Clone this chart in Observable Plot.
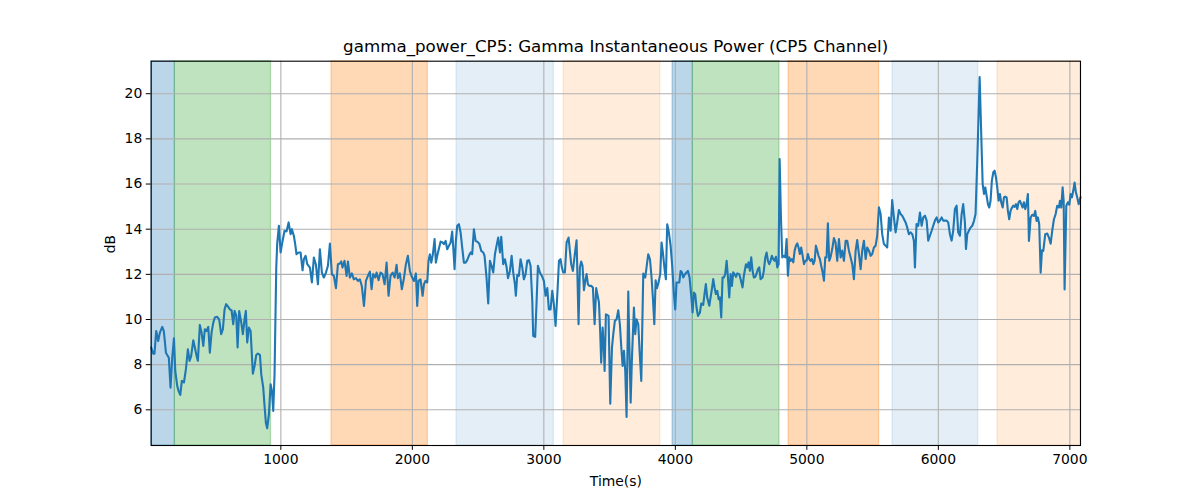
<!DOCTYPE html>
<html>
<head>
<meta charset="utf-8">
<script src="https://cdn.jsdelivr.net/npm/d3@7"></script>
<script src="https://cdn.jsdelivr.net/npm/@observablehq/plot@0.6"></script>
<style>
  html, body { margin: 0; padding: 0; background: white; }
  #title {
    height: 56px; box-sizing: border-box; padding-top: 36px;
    width: 930px; margin-left: 150.7px; text-align: center;
    font-family: "DejaVu Sans", sans-serif; font-size: 16.7px; line-height: 20px; color: black;
    white-space: nowrap;
  }
</style>
</head>
<body>
<div id="title">gamma_power_CP5: Gamma Instantaneous Power (CP5 Channel)</div>
<div id="chart"></div>
<script>
// ---- data ----
const times = [
  14,29,39,52,67,80,98,110,126,136,148,161,174,187,197,212,222,235,247,263,278,293,306,318,334,346,359,369,384,397,
  410,422,435,448,460,473,486,498,516,531,546,559,572,584,600,612,625,638,648,661,671,683,699,711,724,734,744,757,770,787,
  800,813,825,841,851,866,876,886,896,909,922,932,942,952,965,972,985,998,
  1013,1028,1043,1059,1074,1084,1099,1109,1119,1135,1150,1165,1175,1188,1201,1221,1236,1251,1266,1282,1297,1312,1327,1343,1358,1373,
  1388,1403,1419,1434,1449,1459,1469,1484,1500,1510,1525,1540,1555,1571,1586,1601,1616,1632,1647,1662,1677,1690,1702,1718,1728,1743,
  1758,1773,1789,1804,1819,1834,1850,1865,1880,1890,1905,1920,1936,1951,1966,1981,1996,2012,2027,2037,
  2047,2062,2078,2088,2100,2113,2123,2133,2144,2156,2169,2179,2189,2204,2215,2230,2240,2253,2265,2278,2291,2303,2311,2321,2331,2341,
  2354,2367,2379,2392,2405,2417,2430,2443,2455,2468,2481,2493,2509,2524,2539,2549,2564,2577,2590,2602,2615,2628,2640,2653,2666,2676,
  2691,2704,2717,2727,2742,2755,2767,2780,2787,2798,2810,2823,2836,2848,2861,2874,2886,2899,2912,2919,2934,2945,2955,2970,2985,3000,
  3013,3026,3038,3051,3064,3076,3089,3102,3115,
  3127,3137,3147,3160,3173,3188,3198,3208,3221,3234,3249,3264,3274,3284,3294,3305,3315,3325,3335,3345,3360,3373,3386,3398,3409,3419,
  3429,3436,3447,3457,3462,3472,3482,3492,3505,3518,3528,3540,3553,3566,3578,3589,3599,3609,3619,3629,3642,3649,3660,3670,3685,3695,
  3705,3718,3728,3741,3756,3771,3784,3794,3807,3819,3829,3840,3850,3860,3872,3885,3895,3905,3918,3928,3938,3951,3964,3976,3989,3999,
  4009,4019,4030,4040,4050,4060,4070,4085,4096,4108,4121,4131,4141,4151,4161,4172,4187,
  4197,4212,4222,4232,4242,4258,4268,4278,4288,4298,4308,4319,4329,4339,4349,4359,4369,4379,4390,4400,4410,4420,4430,4440,4450,4461,
  4471,4486,4496,4511,4521,4537,4547,4557,4567,4577,4587,4597,4608,4618,4628,4638,4648,4663,4673,4684,4694,4704,4714,4724,4734,4744,
  4755,4765,4775,4785,4793,4803,4813,4826,4836,4846,4856,4866,4876,4886,4897,4907,4917,4927,4937,4947,4957,4968,4978,4988,4998,5008,
  5018,5028,5039,5049,5059,5069,5079,5089,5099,5109,5120,5130,5140,5150,5160,5170,
  5180,5193,5206,5218,5231,5244,5257,5269,5282,5295,5307,5320,5333,5345,5358,5371,5383,5396,5409,5421,5434,5447,5459,5472,5485,5497,
  5510,5523,5535,5548,5561,5573,5586,5599,5611,5624,5637,5649,5662,5675,5687,5700,5713,5725,5738,5751,5763,5776,5789,5802,5814,5822,
  5834,5847,5860,5873,5885,5898,5911,5923,5936,5949,5961,5974,5987,5999,6012,6025,6037,6050,6063,6075,6088,6101,6113,6126,6139,6151,
  6164,6177,6189,6202,6210,6220,6232,
  6245,6258,6271,6283,6296,6314,6326,6337,6347,6357,6367,6377,6387,6397,6407,6418,6428,6438,6448,6458,6468,6478,6489,6499,6509,6519,
  6529,6539,6549,6560,6570,6580,6590,6600,6610,6620,6631,6641,6651,6661,6671,6681,6689,6702,6714,6727,6737,6747,6757,6767,6778,6788,
  6798,6813,6828,6841,6854,6866,6879,6892,6904,6917,6925,6935,6945,6953,6960,6973,6985,6996,7006,7016,7026,7036,7046,7056,7067,7081
];
const power = [
  8.76,8.49,8.49,9.49,9.05,9.42,9.67,9.49,8.53,8.43,8.31,6.98,8.31,9.17,7.72,7.06,6.84,6.66,7.28,7.21,7.80,8.68,8.17,8.39,9.08,8.76,8.39,8.17,9.76,9.42,
  8.83,9.57,9.49,9.67,8.53,9.42,9.86,10.09,10.12,10.01,9.35,9.57,10.45,10.68,10.56,10.45,10.41,9.79,10.38,10.16,8.76,10.38,9.86,9.35,10.01,10.38,8.98,9.64,9.49,7.60,
  7.94,8.43,8.49,8.43,7.57,6.98,6.17,5.43,5.18,5.80,7.13,6.84,5.95,7.57,12.30,13.34,14.15,12.97,
  13.48,13.93,13.90,14.30,13.78,14.00,13.70,13.34,12.89,12.97,12.97,12.18,12.67,12.82,12.45,12.30,11.64,12.74,12.45,11.56,13.11,12.08,11.86,12.08,12.38,13.36,
  12.01,11.93,11.39,12.45,12.48,12.57,12.30,12.60,11.93,12.57,11.86,12.04,11.78,11.83,11.71,11.78,11.47,10.60,11.71,11.93,12.12,11.34,12.01,11.86,12.08,11.74,
  12.08,12.01,11.56,12.52,11.05,11.93,12.08,11.86,12.42,11.83,12.04,11.34,11.83,12.45,12.82,12.15,11.89,11.71,12.04,10.60,
  11.71,11.78,11.05,11.56,11.71,11.64,12.60,12.89,12.52,12.89,13.56,12.52,12.82,13.19,13.45,13.41,13.34,13.48,13.11,13.26,13.41,13.90,13.19,12.23,13.48,14.15,
  14.22,13.85,13.19,12.52,12.52,12.63,12.82,12.97,12.89,14.00,13.48,13.45,13.36,13.04,12.97,12.82,11.86,10.71,12.60,12.38,12.08,12.89,13.26,13.63,12.97,13.66,
  12.45,12.67,12.30,11.83,12.15,12.82,12.08,11.56,11.05,11.98,11.93,12.67,12.30,11.78,12.01,12.60,12.63,12.38,10.82,9.27,9.23,10.82,12.38,12.08,11.93,11.71,
  11.05,11.39,10.45,10.45,11.27,10.68,9.72,11.05,12.60,
  12.67,12.30,12.08,12.08,13.41,13.63,13.04,12.45,12.15,12.82,13.51,9.79,12.30,12.57,12.38,11.30,11.71,12.01,11.56,11.49,11.49,11.42,9.79,11.39,11.05,10.75,
  9.35,8.09,9.64,8.61,7.72,10.23,10.20,10.16,6.27,8.76,9.35,9.94,10.01,10.41,9.79,8.76,7.94,8.61,7.72,5.68,11.24,9.20,6.32,8.31,10.53,9.35,
  10.01,9.79,8.61,7.28,12.04,11.86,12.45,12.89,12.67,11.86,10.97,9.79,11.74,11.39,11.64,12.01,13.41,12.97,12.23,11.78,14.22,13.85,13.26,12.38,11.12,10.45,
  11.64,11.64,11.64,12.15,12.08,11.86,11.98,12.08,12.15,11.86,11.05,10.31,11.19,11.12,10.53,10.16,10.31,
  10.71,10.65,11.13,11.57,10.98,10.61,10.98,11.35,11.79,11.42,11.13,11.27,10.90,10.98,10.09,11.86,11.86,12.01,12.60,11.86,10.98,12.01,11.49,12.09,12.01,11.89,
  12.04,12.01,11.79,11.42,11.94,12.45,12.31,12.53,12.16,12.75,12.16,11.86,11.89,12.04,12.23,12.31,11.79,11.86,12.16,12.75,12.97,12.60,12.45,12.60,12.82,12.68,
  12.60,12.78,12.31,12.45,17.11,14.52,12.75,12.82,12.75,13.56,11.94,12.75,12.60,12.68,12.53,13.05,13.27,13.37,13.19,12.90,13.19,12.82,12.45,12.60,12.60,12.90,
  12.68,12.60,12.68,12.45,12.60,13.27,13.05,12.82,12.68,12.38,12.09,11.72,12.75,12.75,14.26,12.60,
  12.75,13.12,13.61,13.42,12.60,13.56,12.75,13.05,12.60,13.49,13.49,13.05,12.75,12.45,11.79,13.05,13.52,12.90,12.23,13.05,13.49,12.68,13.19,13.05,12.82,12.90,
  13.19,13.27,13.71,14.97,14.67,13.78,13.34,13.27,13.19,14.52,13.93,15.29,14.52,13.86,14.30,14.85,14.67,14.60,14.45,14.30,14.08,13.78,13.86,13.78,13.49,12.31,
  14.23,14.15,14.74,14.15,14.52,14.60,14.38,13.49,13.71,13.93,14.15,14.38,14.52,14.30,14.38,14.52,14.38,14.38,14.38,14.30,13.78,13.49,13.93,14.89,15.04,13.86,
  13.71,14.67,15.11,14.30,13.12,13.78,13.93,
  14.07,14.15,14.37,14.67,17.04,20.74,18.22,16.00,15.56,15.85,15.48,15.11,14.96,15.26,16.15,16.52,16.59,16.30,15.85,15.26,15.56,15.19,14.96,15.41,15.44,15.41,
  14.81,14.44,14.81,14.96,15.04,14.99,15.11,14.89,15.19,15.26,15.11,14.96,15.19,14.89,15.11,15.56,13.48,14.52,14.64,14.59,14.81,14.37,14.52,14.22,12.07,13.07,
  13.04,13.78,13.81,13.63,13.36,13.93,14.44,14.67,15.04,14.96,15.26,14.96,15.85,15.26,11.33,15.04,15.19,15.09,15.56,15.41,15.70,16.07,15.63,15.41,15.11,15.41
];
// shaded epochs (start, end in seconds) and their kind
const spanStart = [14, 194, 1385, 2336, 3150, 3979, 4133, 4861, 5652, 6450];
const spanEnd   = [194, 925, 2118, 3076, 3885, 4133, 4792, 5550, 6303, 7081];
const spanKind  = ["blue", "green", "orange", "lightblue", "lightorange", "blue", "green", "orange", "lightblue", "lightorange"];
const xTicks = [1000, 2000, 3000, 4000, 5000, 6000, 7000];
const yTicks = [6, 8, 10, 12, 14, 16, 18, 20];
const xDomain = [14, 7081];
const yDomain = [4.42, 21.44];

// ---- build tables ----
const series = times.map((t, i) => ({t, v: power[i]}));
const kindStyle = {
  blue:        {color: "#1f77b4", op: 0.30},
  green:       {color: "#2ca02c", op: 0.30},
  orange:      {color: "#ff7f0e", op: 0.30},
  lightblue:   {color: "#1f77b4", op: 0.12},
  lightorange: {color: "#ff7f0e", op: 0.15}
};
const spans = spanStart.map((s, i) => ({x1: s, x2: spanEnd[i], kind: spanKind[i]}));

const chart = Plot.plot({
  width: 1200,
  height: 444,
  marginLeft: 150.7,
  marginRight: 120,
  marginTop: 4.7,
  marginBottom: 55,
  style: {fontFamily: "DejaVu Sans, sans-serif", fontSize: "13.9px", background: "white", color: "black"},
  x: {domain: xDomain, label: null},
  y: {domain: yDomain, label: null},
  marks: [
    Plot.rectX(spans, {
      x1: "x1", x2: "x2",
      fill: d => kindStyle[d.kind].color,
      fillOpacity: d => kindStyle[d.kind].op,
      stroke: d => kindStyle[d.kind].color,
      strokeOpacity: d => kindStyle[d.kind].op,
      strokeWidth: 1.3
    }),
    Plot.gridX(xTicks, {stroke: "#b0b0b0", strokeOpacity: 1, strokeWidth: 1.1}),
    Plot.gridY(yTicks, {stroke: "#b0b0b0", strokeOpacity: 1, strokeWidth: 1.1}),
    Plot.line(series, {x: "t", y: "v", stroke: "#1f77b4", strokeWidth: 2.1, strokeLinejoin: "round"}),
    Plot.frame({stroke: "black", strokeWidth: 1.1}),
    Plot.axisX(xTicks, {tickSize: 4.9, tickPadding: 4, tickFormat: d => String(d), label: null, fontSize: 13.9}),
    Plot.axisY(yTicks, {tickSize: 4.9, tickPadding: 4, tickFormat: d => String(d), label: null, fontSize: 13.9}),
    Plot.text(["Time(s)"], {frameAnchor: "bottom", dy: 36, lineAnchor: "middle", fontSize: 13.9}),
    Plot.text(["dB"], {frameAnchor: "left", dx: -41, rotate: -90, lineAnchor: "middle", fontSize: 13.9})
  ]
});
document.getElementById("chart").appendChild(chart);
</script>
</body>
</html>
